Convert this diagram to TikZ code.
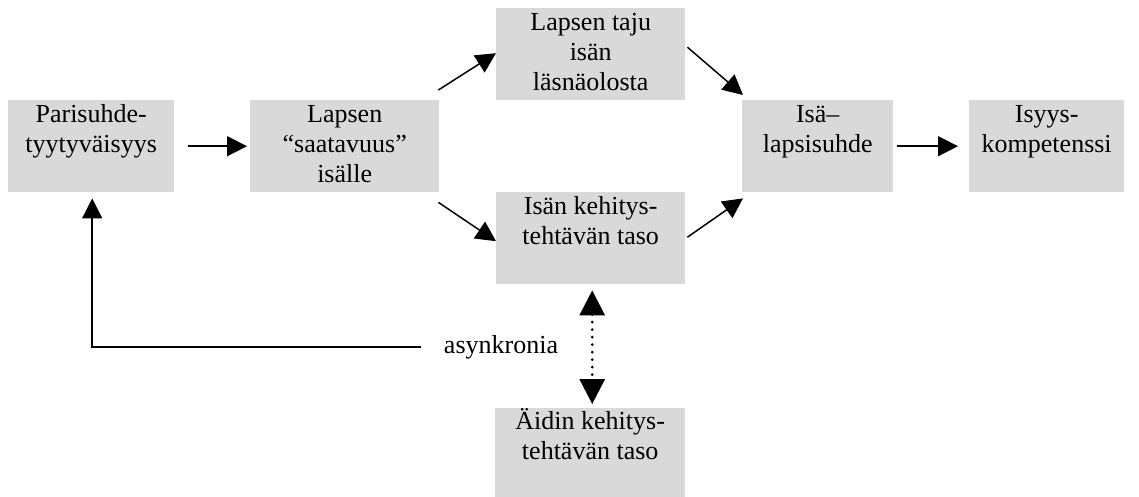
\documentclass[tikz,border=0pt]{standalone}
\usepackage{fontspec}
\setmainfont{Liberation Serif}
\usetikzlibrary{arrows.meta}
\definecolor{boxgray}{RGB}{217,217,217}
\tikzset{
  box/.style={fill=boxgray, draw=none, anchor=north west, inner sep=0pt},
  txt/.style={anchor=north, align=center, inner xsep=0pt, inner ysep=1.5pt,
    font=\fontsize{26}{30}\selectfont},
  arr/.style={line width=1.5pt, -{Triangle[length=20pt,width=20pt]}},
  dotarr/.style={line width=3pt, dash pattern=on 0pt off 7.5pt, line cap=round,
    {Triangle[length=25pt,width=25pt]}-{Triangle[length=25pt,width=25pt]}},
}
\begin{document}
\begin{tikzpicture}[x=1pt,y=-1pt]
\useasboundingbox (0,0) rectangle (1139,497);
% boxes
\node[box, minimum width=166pt, minimum height=92pt] (p) at (8,100) {};
\node[box, minimum width=189pt, minimum height=92pt] (l) at (250,100) {};
\node[box, minimum width=189pt, minimum height=92pt] (t) at (496,8) {};
\node[box, minimum width=189pt, minimum height=92pt] (k) at (496,192) {};
\node[box, minimum width=151pt, minimum height=92pt] (i) at (742,100) {};
\node[box, minimum width=155pt, minimum height=92pt] (c) at (969,100) {};
\node[box, minimum width=190pt, minimum height=89pt] (a) at (495,408) {};
% texts
\node[txt] (pt) at (p.north) {\strut Parisuhde-\\tyytyväisyys};
\node[txt] (lt) at (l.north) {\strut Lapsen\\“saatavuus”\\isälle};
\node[txt] (tt) at (t.north) {\strut Lapsen taju\\isän\\läsnäolosta};
\node[txt] (kt) at (k.north) {\strut Isän kehitys-\\tehtävän taso};
\node[txt] (it) at (i.north) {\strut Isä–\\lapsisuhde};
\node[txt] (ct) at (c.north) {\strut Isyys-\\kompetenssi};
\node[txt, yshift=1pt] (at) at (a.north) {\strut Äidin kehitys-\\tehtävän taso};
\node[font=\fontsize{26}{30}\selectfont, inner sep=0pt] (as) at (501,347) {asynkronia};
% connectors
\draw[arr] ([xshift=14pt]p.east) -- ([xshift=-3pt]l.west);
\draw[arr] ([xshift=4pt]i.east) -- ([xshift=-11pt]c.west);
\draw[arr] ([xshift=-1pt,yshift=10pt]l.north east) -- ([yshift=1pt]t.west);
\draw[arr] ([xshift=-1pt,yshift=-10pt]l.south east) -- ([yshift=-3pt]k.west);
\draw[arr] ([xshift=2pt,yshift=7pt]t.east) -- ([xshift=1pt,yshift=5pt]i.north west);
\draw[arr] ([xshift=2pt,yshift=1pt]k.east) -- ([xshift=1pt,yshift=-6pt]i.south west);
\draw[arr] ([xshift=-23pt]as.west) -| ([xshift=1pt,yshift=-6pt]p.south);
\draw[dotarr] ([xshift=1.5pt,yshift=-6pt]k.south) -- ([xshift=2pt,yshift=4pt]a.north);
\end{tikzpicture}
\end{document}
